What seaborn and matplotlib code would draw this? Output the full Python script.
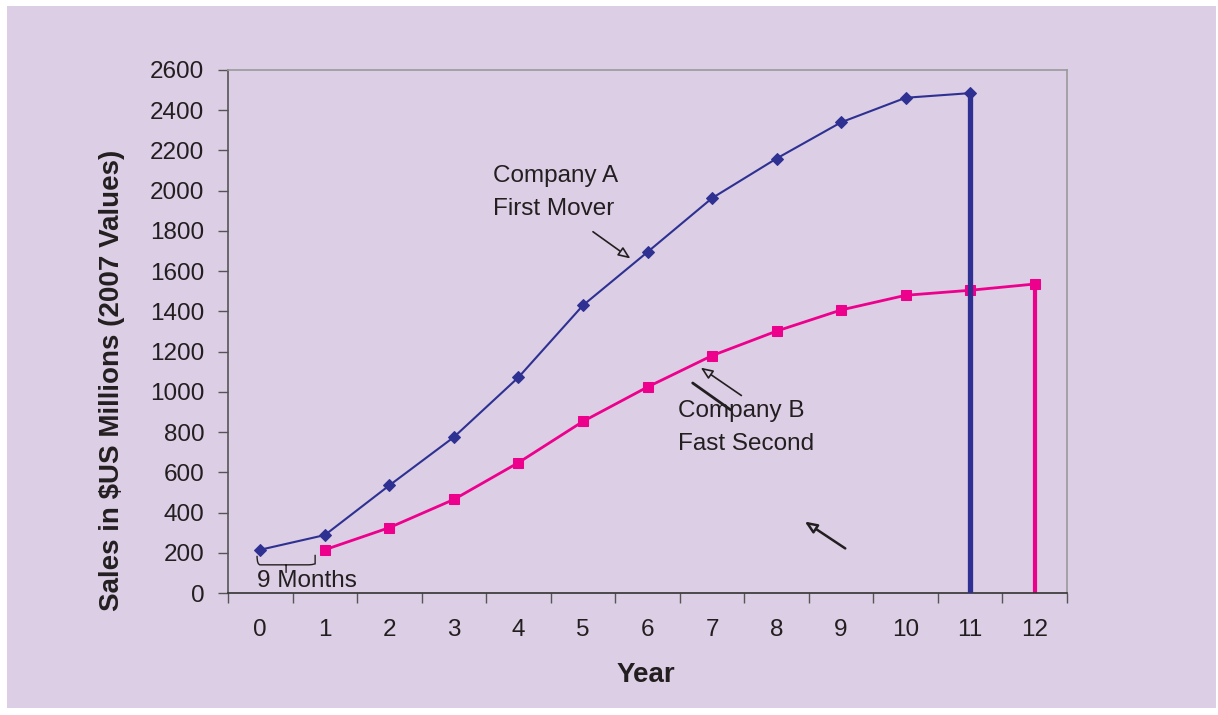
import numpy as np
import pandas as pd
import matplotlib
matplotlib.use("Agg")
import matplotlib.pyplot as plt
from matplotlib.patches import Rectangle
from matplotlib.path import Path
from matplotlib.patches import PathPatch
import seaborn as sns

# Sales series (US$ millions, 2007 values)
years_a = [0, 1, 2, 3, 4, 5, 6, 7, 8, 9, 10, 11]
sales_a = [215, 288, 535, 775, 1072, 1430, 1695, 1963, 2160, 2340, 2462, 2485]
years_b = [1, 2, 3, 4, 5, 6, 7, 8, 9, 10, 11, 12]
sales_b = [215, 325, 465, 648, 853, 1024, 1180, 1302, 1407, 1480, 1505, 1536]
year_ticks = list(range(13))
sales_ticks = list(range(0, 2601, 200))

BG = "#DBCEE5"
BLUE = "#2E3192"
PINK = "#EC008C"
TXT = "#231F20"

sns.set_theme(style="white")
plt.rcParams["font.family"] = ["Liberation Sans", "DejaVu Sans"]

fig = plt.figure(figsize=(12.18, 7.15), dpi=100, facecolor="white")
panel = Rectangle((7 / 1218, 1 - 708 / 715), (1216 - 7) / 1218, (708 - 6) / 715,
                  transform=fig.transFigure, facecolor=BG, edgecolor="none", zorder=-10)
fig.patches.append(panel)
ax = fig.add_axes([228 / 1218, 1 - 593 / 715, (1067 - 228) / 1218, (593 - 70) / 715])
ax.set_zorder(5)
ax.set_facecolor(BG)

df_a = pd.DataFrame({"Year": years_a, "Sales": sales_a})
df_b = pd.DataFrame({"Year": years_b, "Sales": sales_b})

sns.lineplot(data=df_a, x="Year", y="Sales", ax=ax, color=BLUE, lw=1.5,
             marker="D", markersize=6.5, markeredgecolor=BLUE, markerfacecolor=BLUE, zorder=3)
sns.lineplot(data=df_b, x="Year", y="Sales", ax=ax, color=PINK, lw=2.0,
             marker="s", markersize=7, markeredgecolor=PINK, markerfacecolor=PINK, zorder=3)

# drop lines at the end of each series
ax.vlines(years_a[-1], 0, sales_a[-1], color=BLUE, lw=3.8, zorder=4)
ax.vlines(years_b[-1], 0, sales_b[-1], color=PINK, lw=3.0, zorder=2)

ax.set_xlim(-0.5, 12.5)
ax.set_ylim(0, 2600)
ax.set_xticks(year_ticks)
ax.set_xticklabels([str(v) for v in year_ticks], fontsize=17.5, color=TXT)
ax.set_xticks(np.arange(-0.5, 12.6, 1.0), minor=True)
ax.tick_params(axis="x", which="major", length=0, pad=19)
ax.tick_params(axis="x", which="minor", length=7, width=1, color="#555555", direction="out")
ax.set_yticks(sales_ticks)
ax.set_yticklabels([str(v) for v in sales_ticks], fontsize=17.5, color=TXT)
ax.tick_params(axis="y", which="major", length=7, width=1, color="#555555", direction="out", pad=10)
ax.tick_params(left=True, bottom=True, which="both")

for side in ["top", "right"]:
    ax.spines[side].set_color("#9A9A9A")
    ax.spines[side].set_linewidth(1.2)
ax.spines["left"].set_color("#555555")
ax.spines["bottom"].set_color("#333333")
for side in ["left", "bottom"]:
    ax.spines[side].set_linewidth(1.2)

ax.set_xlabel("")
ax.set_ylabel("")
fig.text(112 / 1218, 1 - 380 / 715, "Sales in $US Millions (2007 Values)", rotation=90,
         ha="center", va="center", fontsize=20, fontweight="bold", color=TXT)
fig.text(646 / 1218, 1 - 675 / 715, "Year", ha="center", va="center",
         fontsize=20, fontweight="bold", color=TXT)

# annotations
ax.text(3.60, 2072, "Company A", fontsize=17.5, color=TXT, va="center", ha="left")
ax.text(3.60, 1908, "First Mover", fontsize=17.5, color=TXT, va="center", ha="left")
ax.text(6.47, 905, "Company B", fontsize=17.5, color=TXT, va="center", ha="left")
ax.text(6.47, 741, "Fast Second", fontsize=17.5, color=TXT, va="center", ha="left")
ax.text(-0.05, 60, "9 Months", fontsize=17.5, color=TXT, va="center", ha="left")

arrow_open = dict(arrowstyle="-|>,head_length=0.6,head_width=0.25", color=TXT, lw=1.2, fc=BG)
ax.annotate("", xy=(5.77, 1655), xytext=(5.12, 1804), arrowprops=arrow_open)
ax.annotate("", xy=(6.79, 1128), xytext=(7.49, 974), arrowprops=arrow_open)
ax.annotate("", xy=(8.40, 363), xytext=(9.10, 214),
            arrowprops=dict(arrowstyle="-|>,head_length=0.6,head_width=0.25", color=TXT, lw=1.8, fc=BG))
ax.plot([6.70, 7.29], [1044, 910], color=TXT, lw=2.0, zorder=2)

# brace spanning the first nine months
verts = [(-0.05, 185), (-0.05, 140), (0.0, 140), (0.05, 140),
         (0.40, 140), (0.40, 140), (0.40, 100), (0.40, 140), (0.40, 140),
         (0.75, 140), (0.80, 140), (0.85, 145), (0.85, 190)]
codes = [Path.MOVETO, Path.CURVE3, Path.CURVE3, Path.LINETO,
         Path.LINETO, Path.MOVETO, Path.LINETO, Path.MOVETO, Path.LINETO,
         Path.LINETO, Path.CURVE3, Path.CURVE3, Path.LINETO]
ax.add_patch(PathPatch(Path(verts, codes), fill=False, edgecolor=TXT, lw=1.0, zorder=2))

fig.savefig("out.png", dpi=100, facecolor="white")
